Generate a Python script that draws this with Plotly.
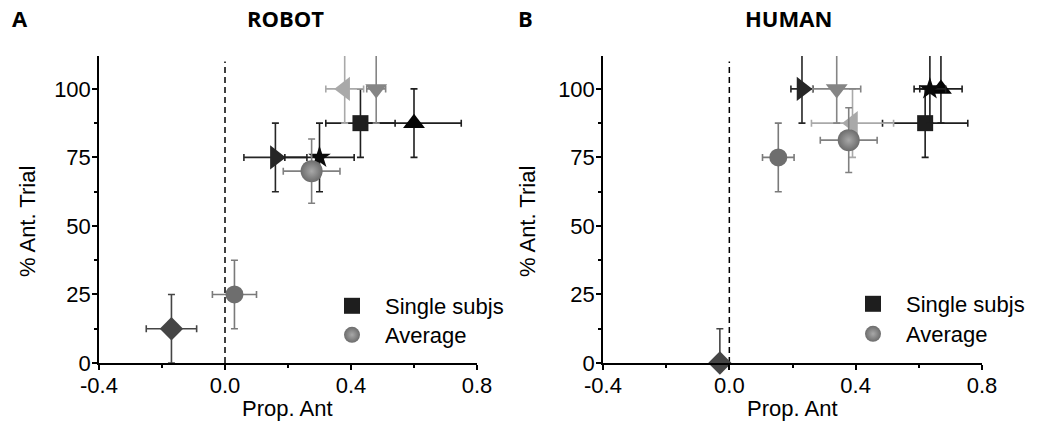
import plotly.graph_objects as go

W, H = 1041, 431

# ---------------- data ----------------
symbols = ["square", "triangle-up", "triangle-right", "star", "diamond",
           "triangle-left", "triangle-down", "circle"]
colors = ["#1e1e1e", "#050505", "#262626", "#0a0a0a", "#454545",
          "#a9a9a9", "#858585", "#6e6e6e"]
err_colors = ["#1e1e1e", "#1e1e1e", "#262626", "#1e1e1e", "#454545",
              "#a9a9a9", "#858585", "#7a7a7a"]
sizes = [16, 19, 21, 17, 18, 21, 19, 18]

robot_x = [0.43, 0.60, 0.16, 0.30, -0.17, 0.38, 0.48, 0.03]
robot_y = [87.5, 87.5, 75, 75, 12.5, 100, 100, 25]
robot_xerr = [0.11, 0.15, 0.10, 0.11, 0.08, 0.06, 0.03, 0.07]
robot_yerr = [12.5, 12.5, 12.5, 12.5, 12.5, 12.5, 12.5, 12.5]

human_x = [0.62, 0.67, 0.23, 0.635, -0.03, 0.39, 0.34, 0.155]
human_y = [87.5, 100, 100, 100, 0, 87.5, 100, 75]
human_xerr = [0.135, 0.067, 0.035, 0.05, 0.0, 0.13, 0.076, 0.05]
human_yerr = [12.5, 12.5, 12.5, 12.5, 12.5, 12.5, 12.5, 12.5]

avg_robot = dict(x=0.275, y=70, xerr=0.09, yerr=11.7)
avg_human = dict(x=0.378, y=81.3, xerr=0.09, yerr=11.8)

x_range = [-0.4, 0.8]
y_range = [0, 112]
x_ticks = [-0.4, 0.0, 0.4, 0.8]
x_ticklabels = ["-0.4", "0.0", "0.4", "0.8"]
y_ticks = [0, 25, 50, 75, 100]
y_ticklabels = ["0", "25", "50", "75", "100"]

panel_titles = ["ROBOT", "HUMAN"]
panel_letters = ["A", "B"]
legend_labels = ["Single subjs", "Average"]

# ---------------- layout geometry (pixels -> paper) ----------------
def px(x):
    return x / W

def py(y):
    return (H - y) / H

x_domains = [[px(99), px(477)], [px(603), px(982)]]
y_domain = [py(363), py(56)]

fig = go.Figure()

SPHERE_EDGE = "#6c6c6c"
SPHERE_CENTER = "#a8a8a8"

panels = [
    (robot_x, robot_y, robot_xerr, robot_yerr, avg_robot, "x", "y"),
    (human_x, human_y, human_xerr, human_yerr, avg_human, "x2", "y2"),
]

for (xs, ys, xe, ye, avg, xa, ya) in panels:
    for i in range(len(xs)):
        fig.add_trace(go.Scatter(
            x=[xs[i]], y=[ys[i]], mode="markers", xaxis=xa, yaxis=ya,
            showlegend=False, cliponaxis=False, hoverinfo="skip",
            marker=dict(symbol=symbols[i], size=sizes[i], color=colors[i],
                        line=dict(width=0)),
            error_x=dict(type="data", array=[xe[i]], visible=True,
                         color=err_colors[i], thickness=1.6, width=3.5),
            error_y=dict(type="data", array=[ye[i]], visible=True,
                         color=err_colors[i], thickness=1.6, width=3.5),
        ))
    fig.add_trace(go.Scatter(
        x=[avg["x"]], y=[avg["y"]], mode="markers", xaxis=xa, yaxis=ya,
        showlegend=False, cliponaxis=False, hoverinfo="skip",
        marker=dict(symbol="circle", size=22, color=SPHERE_EDGE,
                    gradient=dict(type="radial", color=SPHERE_CENTER),
                    line=dict(width=0)),
        error_x=dict(type="data", array=[avg["xerr"]], visible=True,
                     color="#808080", thickness=1.6, width=3.5),
        error_y=dict(type="data", array=[avg["yerr"]], visible=True,
                     color="#808080", thickness=1.6, width=3.5),
    ))

# legend entries (one legend per item for exact placement)
leg_specs = [
    ("legend", legend_labels[0], "square", colors[0], None, 352, 306),
    ("legend2", legend_labels[1], "circle", SPHERE_EDGE, SPHERE_CENTER, 352, 335),
    ("legend3", legend_labels[0], "square", colors[0], None, 873, 304),
    ("legend4", legend_labels[1], "circle", SPHERE_EDGE, SPHERE_CENTER, 873, 334),
]
legend_layouts = {}
for name, label, sym, col, grad, mx, my in leg_specs:
    mk = dict(symbol=sym, size=16, color=col, line=dict(width=0))
    if grad:
        mk["gradient"] = dict(type="radial", color=grad)
    fig.add_trace(go.Scatter(x=[None], y=[None], mode="markers", name=label,
                             marker=mk, legend=name, showlegend=True))
    legend_layouts[name] = dict(
        x=px(mx - 33), y=py(my), xanchor="left", yanchor="middle",
        itemwidth=56, bgcolor="rgba(0,0,0,0)", borderwidth=0,
        font=dict(family="Liberation Sans, Arial", size=22, color="#000"),
        tracegroupgap=0,
    )

axis_font = dict(family="Liberation Sans, Arial", size=22, color="#000")

def xaxis_cfg(dom, anchor):
    return dict(domain=dom, anchor=anchor, range=x_range, showgrid=False,
                zeroline=False, showline=True, linecolor="#000", linewidth=1.5,
                ticks="outside", ticklen=5, tickwidth=1.5, tickcolor="#000",
                tickmode="array", tickvals=x_ticks, ticktext=x_ticklabels,
                tickfont=axis_font, fixedrange=True, automargin=False,
                ticklabelstandoff=-3,
                minor=dict(tickmode="array", tickvals=[-0.2, 0.2, 0.6],
                           ticks="outside", ticklen=3, tickwidth=1.5,
                           tickcolor="#000", showgrid=False))

def yaxis_cfg(anchor):
    return dict(domain=y_domain, anchor=anchor, range=y_range, showgrid=False,
                zeroline=False, showline=True, linecolor="#000", linewidth=1.5,
                ticks="outside", ticklen=5, tickwidth=1.5, tickcolor="#000",
                tickmode="array", tickvals=y_ticks, ticktext=y_ticklabels,
                tickfont=axis_font, fixedrange=True, automargin=False,
                ticklabelstandoff=-3,
                minor=dict(tickmode="array", tickvals=[12.5, 37.5, 62.5, 87.5],
                           ticks="outside", ticklen=3, tickwidth=1.5,
                           tickcolor="#000", showgrid=False))

annotations = []
title_font = dict(family="Open Sans, Liberation Sans", size=22, color="#000")
for k, (lx, tx, ylabx) in enumerate([(20, 285, 27), (525, 788, 527)]):
    annotations.append(dict(text="<b>%s</b>" % panel_letters[k], x=px(lx), y=py(18),
                            xref="paper", yref="paper", showarrow=False,
                            xanchor="center", yanchor="middle", font=title_font))
    annotations.append(dict(text="<b>%s</b>" % panel_titles[k], x=px(tx), y=py(18),
                            xref="paper", yref="paper", showarrow=False,
                            xanchor="center", yanchor="middle", font=title_font))
    dom = x_domains[k]
    annotations.append(dict(text="Prop. Ant", x=(dom[0] + dom[1]) / 2, y=py(408),
                            xref="paper", yref="paper", showarrow=False,
                            xanchor="center", yanchor="middle", font=axis_font))
    annotations.append(dict(text="% Ant. Trial", x=px(ylabx), y=py(222),
                            xref="paper", yref="paper", showarrow=False,
                            textangle=-90, xanchor="center", yanchor="middle",
                            font=axis_font))

shapes = []
for xa, ya in [("x", "y"), ("x2", "y2")]:
    shapes.append(dict(type="line", xref=xa, yref=ya, x0=0, x1=0, y0=0, y1=110,
                       line=dict(color="#000", width=1.5, dash="6px,4px"),
                       layer="below"))

fig.update_layout(
    width=W, height=H, margin=dict(l=0, r=0, t=0, b=0, autoexpand=False),
    paper_bgcolor="#fff", plot_bgcolor="#fff", hovermode=False,
    xaxis=xaxis_cfg(x_domains[0], "y"),
    yaxis=yaxis_cfg("x"),
    xaxis2=xaxis_cfg(x_domains[1], "y2"),
    yaxis2=yaxis_cfg("x2"),
    annotations=annotations, shapes=shapes,
    **legend_layouts,
)

# remove the browser's default page margin so the figure fills the window
fig.write_html(
    "out.html",
    config={"displayModeBar": False, "staticPlot": False},
    post_script="document.body.style.margin='0';document.body.style.padding='0';",
)
